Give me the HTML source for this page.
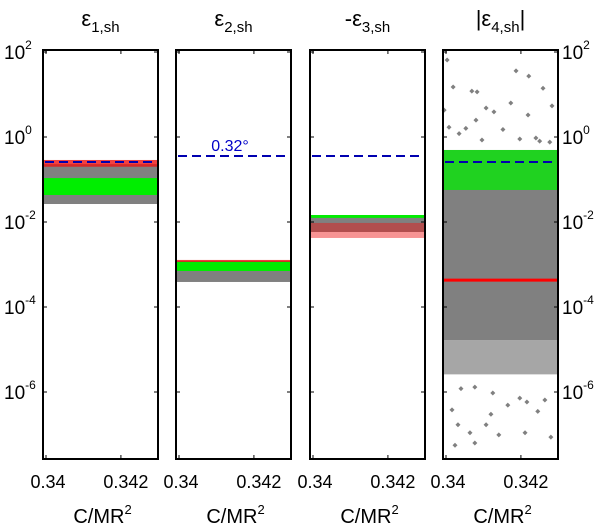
<!DOCTYPE html>
<html><head><meta charset="utf-8"><style>
body{margin:0;background:#fff;}
svg{display:block;font-family:"Liberation Sans",sans-serif;}
</style></head><body>
<svg id="c" width="600" height="530"></svg>
<script>
// ---- data ----
const panelTitles = ["ε1,sh", "ε2,sh", "-ε3,sh", "|ε4,sh|"];
const xTicks = [0.34, 0.342];
const xTickLabels = ["0.34", "0.342"];
const yTicks = [1e2, 1e0, 1e-2, 1e-4, 1e-6];
const yTickExp = ["2", "0", "-2", "-4", "-6"];
const thresholds = [0.258, 0.357, 0.357, 0.258];
const grayLo = [0.0265, 0.000388, 0.00582, 1.67e-5];
const grayHi = [0.23, 0.00121, 0.0146, 0.187];
const greenLo = [0.0432, 0.000703, 0.0125, 0.0567];
const greenHi = [0.108, 0.00115, 0.0146, 0.495];
const redLo = [0.2, 0.00112, 0.00421, 0.000146];
const redHi = [0.288, 0.00128, 0.0095, 0.00043];
const fringeLo = [null, null, null, 2.6e-6];
const fringeHi = [null, null, null, 1.67e-5];
const outX = [0.34003,0.34019,0.34069,0.34083,0.34187,0.34221,0.34259,0.34283,0.33995,0.34107,0.34173,0.34128,0.34219,0.34008,0.34053,0.3408,0.34152,0.3424,0.34035,0.34096,0.34277,0.34197,0.3425,
  0.34016,0.34032,0.34024,0.34064,0.34077,0.34107,0.3412,0.34141,0.34211,0.3428,0.34216,0.34125,0.3404,0.34197,0.34264,0.34077,0.34165,0.34245];
const outY = [65,15,12,11.5,36,27,14,5.4,4.3,4.8,6.3,3.9,3.3,1.7,1.6,2.5,1.5,0.95,1.2,0.85,0.76,0.9,0.8,
  3.8e-7,1.7e-7,5.6e-8,1.1e-7,6.3e-8,1.7e-7,3e-7,9.8e-8,1.1e-7,8.7e-8,5.8e-7,9.5e-7,1.2e-6,7.2e-7,6.5e-7,1.3e-6,4.9e-7,3.5e-7];
// ---- layout ----
const panelLeft = [43, 176, 310, 443], PW = 115, TOP = 50, BOT = 459;
const xMin = 0.33992, xMax = 0.34299;
const y0 = 137, perDec = 42.5;
const svg = document.getElementById('c');
const NS = 'http://www.w3.org/2000/svg';
function mk(tag, at, parent) { const e = document.createElementNS(NS, tag); for (const k in at) e.setAttribute(k, at[k]); (parent || svg).appendChild(e); return e; }
function sx(p, v) { return panelLeft[p] + (v - xMin) / (xMax - xMin) * PW; }
function sy(v) { return y0 - perDec * Math.log10(v); }

for (let p = 0; p < 4; p++) {
  const L = panelLeft[p], R = L + PW;
  const g = mk('g', {});
  
  
  function band(lo, hi, col, name, op) {
    if (lo == null) return;
    const r = mk('rect', { x: L + 1, y: sy(hi), width: PW - 2, height: sy(lo) - sy(hi), fill: col, opacity: op || 1 }, g);
    
    
  }
  band(fringeLo[p], fringeHi[p], '#808080', 'gray-fringe', 0.7);
  band(grayLo[p], grayHi[p], '#808080', 'gray-band');
  if (p === 3) {
    band(greenLo[p], greenHi[p], '#808080', 'green-band-bg');
    const rl = mk('line', { x1: L + 1, x2: R - 1, y1: sy(redHi[p]), y2: sy(redHi[p]), stroke: '#ff0000', 'stroke-width': 3 }, g);
    
    
    band(greenLo[p], greenHi[p], '#00ee00', 'green-band', 0.75);
  } else if (p === 2) {
    band(redLo[p], redHi[p], '#ee1111', 'red-band', 0.45);
    band(greenLo[p], greenHi[p], '#00ee00', 'green-band');
  } else {
    band(redLo[p], redHi[p], '#ee1111', 'red-band', 0.8);
    band(greenLo[p], greenHi[p], '#00ee00', 'green-band');
  }
  if (p === 3) {
    for (let i = 0; i < outX.length; i++) {
      const x = sx(p, outX[i]), y = sy(outY[i]);
      const pt = mk('path', { d: `M${x-2.5},${y}L${x},${y-2.5}L${x+2.5},${y}L${x},${y+2.5}Z`, fill: '#808080' }, g);
      
      
    }
  }
  const th = mk('line', { x1: L + 2, x2: R, y1: sy(thresholds[p]), y2: sy(thresholds[p]), stroke: '#0000b0', 'stroke-width': 2, 'stroke-dasharray': '9,5' }, g);
  
  
  if (p === 1) {
    const t = mk('text', { x: 230, y: sy(thresholds[p]) - 5, 'text-anchor': 'middle', 'font-size': 16, fill: '#0000c8' }, g);
    t.textContent = '0.32°';
    
    
  }
  const fr = mk('rect', { x: L, y: TOP, width: PW, height: BOT - TOP, fill: 'none', stroke: '#000', 'stroke-width': 2 }, g);
  
  
  for (let i = 0; i < yTicks.length; i++) {
    const y = sy(yTicks[i]);
    mk('line', { x1: L, x2: L + 4, y1: y, y2: y, stroke: '#000', 'stroke-width': 1 }, g);
    mk('line', { x1: R - 4, x2: R, y1: y, y2: y, stroke: '#000', 'stroke-width': 1 }, g);
    if (p === 0 || p === 3) {
      const tx = p === 0 ? 4 : R + 4;
      const t = mk('text', { x: tx, y: y + 7, 'font-size': 19, fill: '#000' }, g);
      t.textContent = '10';
      const s = mk('tspan', { dy: -10, 'font-size': 12 }, t);
      s.textContent = yTickExp[i];
      
      
    }
  }
  for (let i = 0; i < xTicks.length; i++) {
    const x = sx(p, xTicks[i]);
    mk('line', { x1: x, x2: x, y1: TOP, y2: TOP + 4, stroke: '#000', 'stroke-width': 1 }, g);
    mk('line', { x1: x, x2: x, y1: BOT - 4, y2: BOT, stroke: '#000', 'stroke-width': 1 }, g);
    const t = mk('text', { x: x + (i === 0 ? 2 : 5), y: 488, 'text-anchor': 'middle', 'font-size': 18, fill: '#000' }, g);
    t.textContent = xTickLabels[i];
    
    
  }
  const xl = mk('text', { x: L + PW / 2 + 2, y: 523, 'text-anchor': 'middle', 'font-size': 20, fill: '#000' }, g);
  xl.textContent = 'C/MR';
  const sp = mk('tspan', { dy: -9, 'font-size': 13 }, xl); sp.textContent = '2';
  
  
  const parts = panelTitles[p].match(/^(\|?-?ε)(\d,sh)(\|?)$/);
  const tt = mk('text', { x: L + PW / 2, y: 26, 'text-anchor': 'middle', 'font-size': 22, fill: '#000' }, g);
  const a = mk('tspan', {}, tt); a.textContent = parts[1];
  const b = mk('tspan', { dy: 6, 'font-size': 15 }, tt); b.textContent = parts[2];
  if (parts[3]) { const c = mk('tspan', { dy: -6, 'font-size': 22 }, tt); c.textContent = parts[3]; }
  
  
}
</script>
</body></html>
